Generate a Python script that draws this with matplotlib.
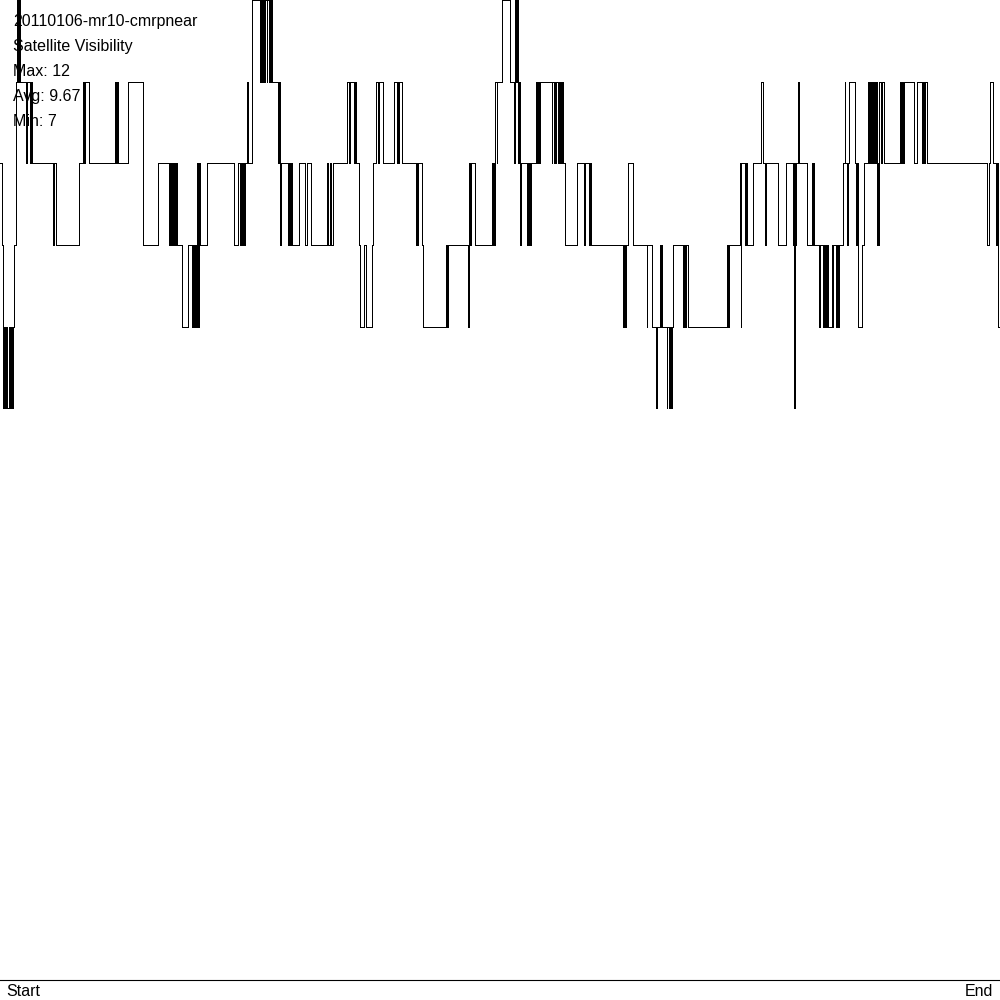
import matplotlib
matplotlib.use("Agg")
import matplotlib.pyplot as plt

# satellite count log: time of change (0..1000) and count after it
t_change = [
    0, 2, 3, 4, 5, 6, 7, 9, 10, 11, 12, 13, 14, 16, 17, 18, 19, 19.8, 26, 26.5,
    30, 31, 32, 53, 54, 56, 79, 83, 84, 85, 89, 115, 116, 117, 117.7, 128, 143, 158,
    169, 170, 171, 172, 173, 174, 175, 176, 177, 182, 188, 192, 193, 194, 195, 196,
    197, 198, 199, 200, 207, 234, 237.7, 240, 241, 242, 243, 244, 245, 246.7, 248.3,
    251.7, 260, 261, 262, 262.7, 264.3, 265, 266.7, 267.3, 269, 269.7, 270.5, 271.2,
    272, 278, 279, 280, 280.5, 288, 289, 290, 291, 292, 299, 305, 306.7, 311, 327.3,
    328.3, 330, 330.5, 332.7, 347, 349, 349.5, 354, 355, 356, 359.3, 360, 364.3,
    365.7, 372, 373, 375.7, 377.7, 378.7, 382.7, 394.3, 396.7, 397.7, 398.3, 399,
    401.7, 416, 417, 417.5, 418.3, 421.7, 422.7, 446, 447, 448, 468.3, 468.6, 469.3,
    470.3, 471, 475, 491.7, 492.5, 493.3, 494.2, 495, 496.7, 497.3, 501.7, 510,
    514.3, 514.7, 515, 516, 516.7, 517.7, 518.3, 519, 520, 520.3, 520.7, 526.7,
    527.7, 528.7, 529.7, 530.5, 531, 535.7, 536.7, 537.7, 538.7, 539.5, 551.7, 552,
    554.3, 554.6, 555.7, 556, 557.7, 558, 559, 560, 561, 562, 563, 565, 576.7, 584.3,
    585.3, 589.3, 590, 590.7, 623.3, 624, 625, 626, 627.7, 633.3, 646.7, 647, 651.7,
    656.3, 657.3, 660, 661, 661.5, 662, 666.7, 667, 669.3, 670.3, 671.3, 672.3,
    673.3, 683.3, 684.3, 685.3, 686, 688.3, 726.7, 727.7, 728.7, 740, 740.5, 741.2,
    745, 746, 747, 753.3, 760.7, 763.3, 765, 766, 778.3, 785.7, 792.7, 793.5, 794.3,
    794.6, 795, 795.7, 797.7, 799.3, 806.7, 811.7, 812.5, 813.3, 814, 819.3, 820,
    822.7, 823.7, 824.7, 825.7, 826.7, 827.7, 828.3, 831.7, 832.7, 833, 836, 837,
    838, 839, 843.3, 845, 845.3, 847.3, 847.6, 849, 855, 856, 857, 858.3, 862.3,
    864.3, 867.7, 869.3, 870.3, 871.3, 872.3, 873.3, 874.3, 875.3, 876, 877, 877.7,
    878.3, 878.7, 881, 881.7, 884.3, 900, 901, 902, 903, 904, 914.3, 916.7, 921.7,
    922.7, 923.7, 924.7, 927.3, 987.3, 989.3, 990, 992.7, 996, 997, 998.3, 1000,
]
sats = [
    10, 9, 7, 8, 7, 8, 7, 8, 7, 8, 7, 8, 9, 11, 12, 11, 12, 11, 10, 11,
    10, 11, 10, 9, 10, 9, 10, 11, 10, 11, 10, 11, 10, 11, 10, 11, 9, 10,
    9, 10, 9, 10, 9, 10, 9, 10, 9, 8, 9, 8, 9, 8, 9, 8,
    10, 8, 10, 9, 10, 9, 10, 9, 10, 9, 10, 9, 10, 11, 10,
    12, 11, 12, 11, 12, 11, 12, 11, 12, 11, 12, 11, 12,
    11, 10, 11, 9, 10, 9, 10, 9, 10, 9, 10, 9, 10, 9, 10,
    9, 10, 9, 10, 11, 10, 11, 10, 11, 10, 9, 8, 9,
    8, 9, 10, 11, 10, 11, 10, 11, 10, 11, 10, 11,
    10, 9, 10, 9, 10, 9, 8, 9, 8, 9, 8, 9, 10,
    9, 10, 9, 10, 9, 10, 9, 11, 10, 11, 12, 11,
    10, 11, 12, 11, 12, 11, 10, 11, 10, 9, 10, 9,
    10, 9, 10, 9, 10, 11, 10, 11, 10, 11, 10, 11,
    10, 11, 10, 11, 10, 11, 10, 11, 10, 11, 10, 9, 10, 9,
    10, 9, 10, 9, 8, 9, 8, 9, 10, 9, 8, 9, 8,
    7, 8, 9, 8, 9, 8, 7, 8, 7, 8, 7, 8,
    9, 8, 9, 8, 9, 8, 9, 8, 9, 10, 8, 10,
    9, 10, 9, 10, 11, 10, 9, 10, 9, 10, 9, 10, 7,
    10, 9, 10, 11, 10, 9, 10, 9, 10, 9, 8, 9,
    8, 9, 8, 9, 8, 9, 8, 9, 8, 9, 8, 9,
    8, 9, 10, 11, 10, 9, 10, 11, 10, 9, 10, 8, 9,
    10, 11, 10, 11, 10, 11, 10, 11, 10, 11, 9, 10,
    9, 11, 10, 11, 10, 11, 10, 11, 10, 11, 10, 11, 10,
    11, 10, 11, 10, 9, 10, 11, 10, 9, 10, 8, 8,
]

title_lines = ["20110106-mr10-cmrpnear", "Satellite Visibility",
               "Max: 12", "Avg: 9.67", "Min: 7"]
x_labels = ["Start", "End"]

plt.rcParams["font.family"] = ["Liberation Sans", "DejaVu Sans"]

fig = plt.figure(figsize=(10, 10), dpi=100)
ax = fig.add_axes([0, 0.02, 1, 0.98])

# thin 1 px step trace, no smoothing
ax.step(t_change, sats, where="post", color="black", linewidth=0.72,
        antialiased=False, clip_on=False, zorder=3)

ax.set_xlim(0, 1000)
ax.set_ylim(0, 12)
for side in ["top", "left", "right"]:
    ax.spines[side].set_visible(False)
ax.spines["bottom"].set_linewidth(0.8)
ax.set_xticks([])
ax.set_yticks([])

# header text, one line every 25 px
for i, line in enumerate(title_lines):
    fig.text(0.013, 1 - (26 + 25 * i) / 1000, line, fontsize=11.5,
             va="baseline", ha="left", color="black")

fig.text(0.006, 0.004, x_labels[0], fontsize=11.5, va="baseline", ha="left")
fig.text(0.993, 0.004, x_labels[1], fontsize=11.5, va="baseline", ha="right")

fig.savefig("out.png", dpi=100, facecolor="white")
